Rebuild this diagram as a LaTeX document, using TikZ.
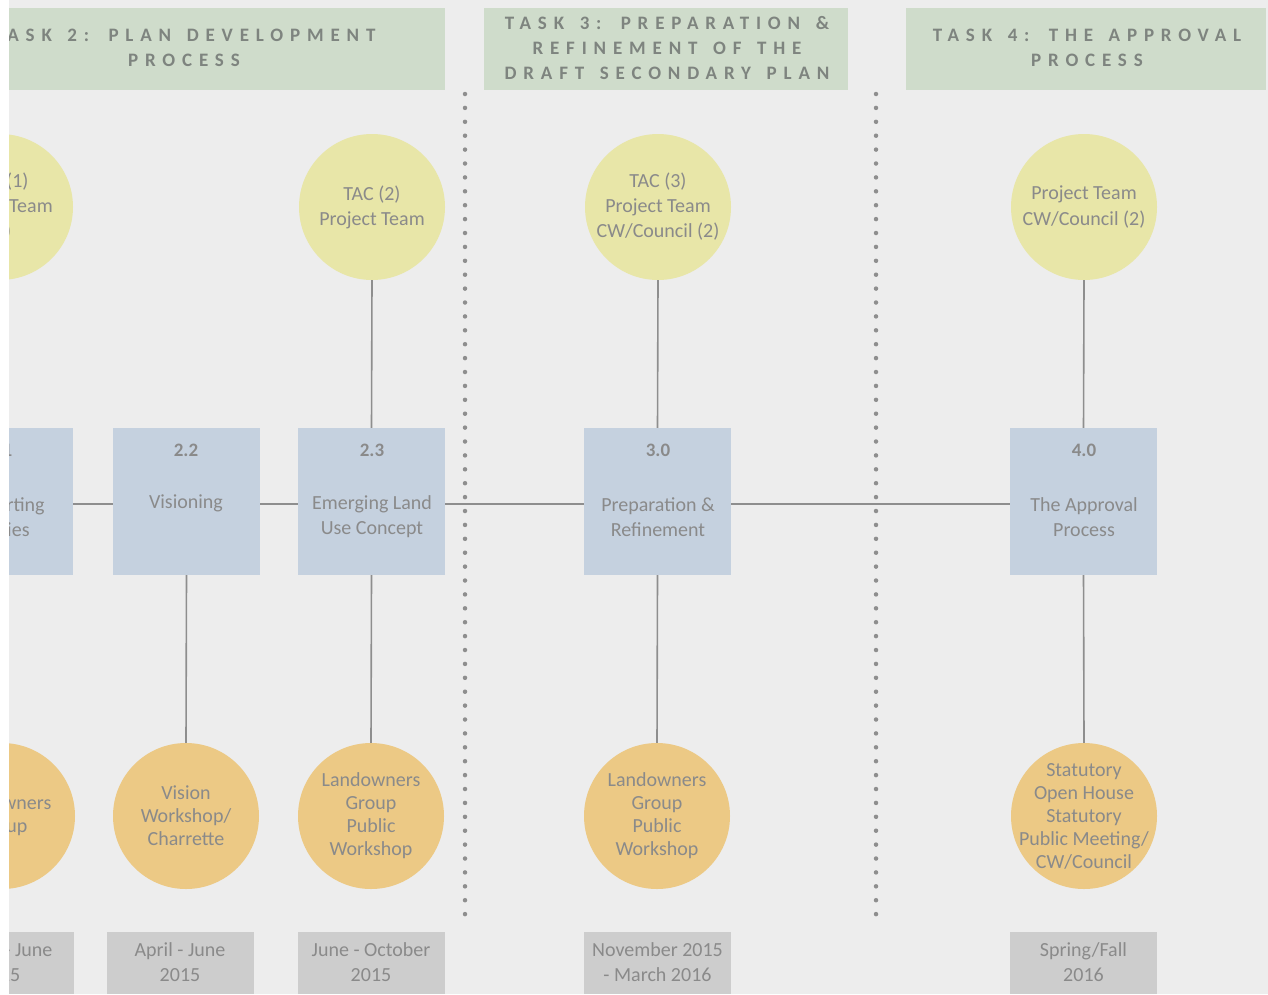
\documentclass[tikz,border=0pt]{standalone}
\usepackage{fontspec}
\setmainfont{Carlito}
\newfontfamily\hdrfont[LetterSpace=36,WordSpace=1.4]{Carlito}
\definecolor{bg}{HTML}{EDEDED}
\definecolor{hdr}{HTML}{CFDCCB}
\definecolor{ylw}{HTML}{E8E6A8}
\definecolor{blu}{HTML}{C5D1DF}
\definecolor{org}{HTML}{ECC985}
\definecolor{dgr}{HTML}{CDCDCD}
\definecolor{txt}{HTML}{8A8A8A}
\definecolor{htxt}{HTML}{7E847F}
\definecolor{ln}{HTML}{8E8E8E}
\tikzset{
  hdrtext/.style={text=htxt,align=center,font=\hdrfont\fontsize{19}{25}\selectfont\bfseries},
  ycirc/.style={circle,fill=ylw,draw=none,minimum size=146pt,inner sep=0pt,text=txt,align=center,font=\fontsize{20}{25}\selectfont},
  ocirc/.style={circle,fill=org,draw=none,minimum size=146pt,inner sep=0pt,text=txt,align=center,font=\fontsize{20}{23}\selectfont},
  otext/.style={text=txt,align=center,inner sep=0pt,font=\fontsize{20}{23}\selectfont},
  bbox/.style={rectangle,fill=blu,draw=none,minimum width=147pt,minimum height=147pt,inner sep=0pt},
  numtext/.style={text=txt,font=\fontsize{19}{23}\selectfont\bfseries,inner sep=0pt},
  desctext/.style={text=txt,align=center,font=\fontsize{20}{25}\selectfont,inner sep=0pt},
  datebox/.style={rectangle,fill=dgr,draw=none,minimum width=147pt,minimum height=62pt,inner sep=0pt,text=txt,align=center,font=\fontsize{20}{25}\selectfont},
  conn/.style={draw=ln,line width=1.6pt},
  dotline/.style={draw=ln,line width=4.5pt,line cap=round,dash pattern=on 0pt off 13.9pt}
}
\begin{document}
\begin{tikzpicture}[x=1pt,y=-1pt]
\useasboundingbox (0,0) rectangle (1268,994);
\fill[white] (0,0) rectangle (1268,994);
\fill[bg] (9,0) rectangle (1268,994);
\begin{scope}
\clip (9,0) rectangle (1268,994);
% headers
\fill[hdr] (-77,8) rectangle (445,90);
\node[hdrtext] (h2) at (184,48) {TASK 2: PLAN DEVELOPMENT\\PROCESS};
\fill[hdr] (484,8) rectangle (848,90);
\node[hdrtext] (h3) at (667,48) {TASK 3: PREPARATION \&\\REFINEMENT OF THE\\DRAFT SECONDARY PLAN};
\fill[hdr] (906,8) rectangle (1266,90);
\node[hdrtext] (h4) at (1087,48) {TASK 4: THE APPROVAL\\PROCESS};
% dotted dividers
\coordinate (d1t) at (465,94);
\coordinate (d1b) at (465,916);
\coordinate (d2t) at (876,94);
\coordinate (d2b) at (876,916);
\draw[dotline] (d1t) -- (d1b);
\draw[dotline] (d2t) -- (d2b);
% yellow circles
\node[ycirc] (c1) at (0,207) {TAC (1)\\Project Team\\(1)};
\node[ycirc] (c2) at (372,207) {TAC (2)\\Project Team};
\node[ycirc] (c3) at (658,207) {TAC (3)\\Project Team\\CW/Council (2)};
\node[ycirc] (c4) at (1084,207) {Project Team\\CW/Council (2)};
% blue boxes
\node[bbox] (b1) at (-0.5,501.5) {};
\node[bbox] (b2) at (186.5,501.5) {};
\node[bbox] (b3) at (371.5,501.5) {};
\node[bbox] (b4) at (657.5,501.5) {};
\node[bbox] (b5) at (1083.5,501.5) {};
\node[numtext] (n1) at (0,450) {2.1};
\node[numtext] (n2) at (186,450) {2.2};
\node[numtext] (n3) at (372,450) {2.3};
\node[numtext] (n4) at (658,450) {3.0};
\node[numtext] (n5) at (1084,450) {4.0};
\node[desctext] (t1) at (0,517) {Supporting\\Studies};
\node[desctext] (t2) at (186,503) {Visioning};
\node[desctext] (t3) at (372,517) {Emerging Land\\Use Concept};
\node[desctext] (t4) at (658,517) {Preparation \&\\Refinement};
\node[desctext] (t5) at (1084,517) {The Approval\\Process};
% orange circles
\node[ocirc] (o1) at (2,816) {Landowners\\Group};
\node[ocirc] (o2) at (186,816) {Vision\\Workshop/\\Charrette};
\node[ocirc] (o3) at (371,816) {Landowners\\Group\\Public\\Workshop};
\node[ocirc] (o4) at (657,816) {Landowners\\Group\\Public\\Workshop};
\node[ocirc] (o5) at (1084,816) {};
\node[otext] (o5t) at (o5.center) {Statutory\\Open House\\Statutory\\Public Meeting/\\CW/Council};
% date boxes
\node[datebox] (g1) at (0,962.5) {March - June\\2015};
\node[datebox] (g2) at (180,962.5) {April - June\\2015};
\node[datebox] (g3) at (371,962.5) {June - October\\2015};
\node[datebox] (g4) at (657.5,962.5) {November 2015\\- March 2016};
\node[datebox] (g5) at (1083.5,962.5) {Spring/Fall\\2016};
% connectors
\draw[conn] (b1.east |- 0,504) -- (b2.west |- 0,504);
\draw[conn] (b2.east |- 0,504) -- (b3.west |- 0,504);
\draw[conn] (b3.east |- 0,504) -- (b4.west |- 0,504);
\draw[conn] (b4.east |- 0,504) -- (b5.west |- 0,504);
\draw[conn] (c1.south) -- (b1.north -| c1.south);
\draw[conn] (c2.south) -- (b3.north);
\draw[conn] (c3.south) -- (b4.north);
\draw[conn] (c4.south) -- (b5.north);
\draw[conn] (b1.south) -- (o1.north -| b1.south);
\draw[conn] (b2.south) -- (o2.north);
\draw[conn] (b3.south) -- (o3.north);
\draw[conn] (b4.south) -- (o4.north);
\draw[conn] (b5.south) -- (o5.north);
\end{scope}
\end{tikzpicture}
\end{document}
